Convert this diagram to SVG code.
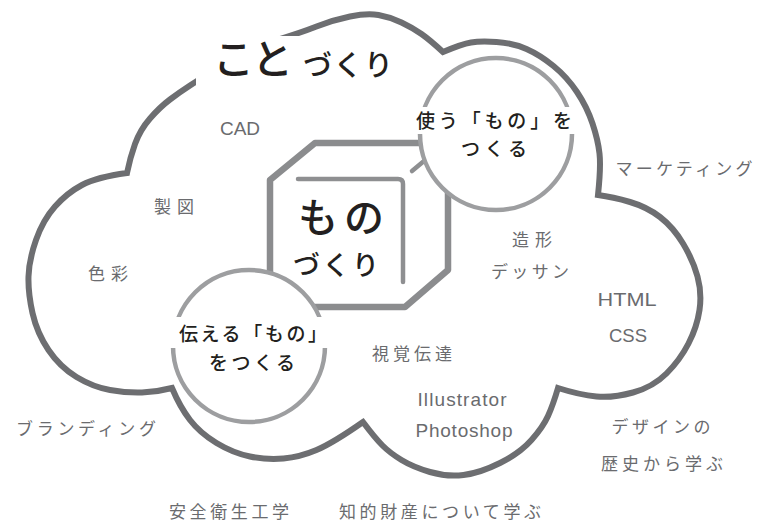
<svg xmlns="http://www.w3.org/2000/svg" width="757" height="522" viewBox="0 0 757 522">
<style>
.cloud{fill:none;stroke:#6d6e71;stroke-width:6;stroke-linejoin:miter}
.oct{fill:none;stroke:#8b8c8e;stroke-width:6.5;stroke-linejoin:round}
.inner{fill:none;stroke:#8e8f91;stroke-width:4.5;stroke-linecap:round}
.c2{fill:#fff;stroke:#9d9ea0;stroke-width:4.5}
.lbl{font-family:'Noto Sans CJK JP',sans-serif;font-size:17px;fill:#6a6b6e;text-anchor:middle}
.lat{font-family:'Liberation Sans',Arial,sans-serif;font-size:19px;fill:#6a6b6e;text-anchor:middle}
.ctx{font-family:'Noto Sans CJK JP',sans-serif;font-size:19px;font-weight:500;fill:#231f20;text-anchor:middle}
.big{font-family:'Noto Sans CJK JP',sans-serif;font-weight:500;fill:#231f20;text-anchor:middle}
</style>
<g id="cloud">
<path class="cloud" d="M127,173 Q130,158 135,144 Q140,130 150,118.5 Q160,107 170,99.5 Q180,92 190,85.5 Q200,79 225,63.5 Q250,48 275,40.5 Q300,33 316.5,26.5 Q333,20 350,16.5 Q367,13 378.5,15 Q390,17 401.5,22.5 Q413,28 421.5,34 Q430,40 443,52 Q462,44 471,42.5 Q480,41 496.5,42 Q513,43 526.5,49 Q540,55 553.5,66 Q567,77 577,92 Q587,107 592.5,123.5 Q598,140 599.5,153.5 Q601,167 598,195 Q613,197 630,202 Q647,207 660,217 Q673,227 683,243.5 Q693,260 697.5,276.5 Q702,293 699.5,310 Q697,327 688.5,343.5 Q680,360 666.5,373.5 Q653,387 633,392.5 Q613,398 596.5,396.5 Q580,395 558,388 Q553,405 548,416 Q543,427 531.5,440 Q520,453 500,463 Q480,473 463.5,475 Q447,477 430,472 Q413,467 401.5,460 Q390,453 382.5,445.5 Q375,438 363,422 Q333,443 316.5,450 Q300,457 283.5,458.5 Q267,460 250,456.5 Q233,453 216.5,443 Q200,433 190,420 Q180,407 172,388 Q157,392 142,392.5 Q127,393 110,390 Q93,387 76.5,377 Q60,367 48.5,350 Q37,333 32.5,313 Q28,293 28.5,276.5 Q29,260 36,240 Q43,220 55,206.5 Q67,193 82,185 Q97,177 127,173 Z"/>
</g>
<g id="title">
<rect x="196" y="36" width="112" height="56" fill="#fff"/>
<text class="big" x="253" y="74" font-size="41" font-weight="700" textLength="80" lengthAdjust="spacing">こと</text>
<text class="big" x="348" y="76" font-size="29" textLength="90" lengthAdjust="spacing">づくり</text>
</g>
<g id="monozukuri">
<polygon class="oct" points="315,143 432,143 448,163 448,270 405,307 292,307 270,286 270,180"/>
<path class="inner" d="M298,179 H398 Q403,179 403,184 V282"/>
<line class="inner" x1="412" y1="171" x2="436" y2="151"/>
<text class="big" x="341" y="232" font-size="40" textLength="86" lengthAdjust="spacing">もの</text>
<text class="big" x="336" y="275" font-size="27" textLength="86" lengthAdjust="spacing">づくり</text>
</g>
<g id="tsukau">
<circle class="c2" cx="496" cy="134" r="76"/>
<rect x="410" y="107" width="170" height="27" fill="#fff"/>
<text class="ctx" x="494" y="128" textLength="156" lengthAdjust="spacing">使う「もの」を</text>
<text class="ctx" x="494" y="156" textLength="66" lengthAdjust="spacing">つくる</text>
</g>
<g id="tsutaeru">
<circle class="c2" cx="249" cy="346" r="76"/>
<rect x="168" y="317" width="164" height="31" fill="#fff"/>
<text class="ctx" x="253" y="341" textLength="148" lengthAdjust="spacing">伝える「もの」</text>
<text class="ctx" x="252" y="370" textLength="86" lengthAdjust="spacing">をつくる</text>
</g>
<g id="labels">
<text class="lat" x="240" y="135" font-size="20">CAD</text>
<text class="lbl" x="174" y="213" textLength="40" lengthAdjust="spacing">製図</text>
<text class="lbl" x="108" y="280" textLength="40" lengthAdjust="spacing">色彩</text>
<text class="lbl" x="86" y="435" textLength="140" lengthAdjust="spacing">ブランディング</text>
<text class="lbl" x="229" y="518" textLength="120" lengthAdjust="spacing">安全衛生工学</text>
<text class="lbl" x="440" y="518" textLength="202" lengthAdjust="spacing">知的財産について学ぶ</text>
<text class="lbl" x="412" y="360" textLength="80" lengthAdjust="spacing">視覚伝達</text>
<text class="lbl" x="530" y="278" textLength="78" lengthAdjust="spacing">デッサン</text>
<text class="lbl" x="532" y="246" textLength="40" lengthAdjust="spacing">造形</text>
<text class="lbl" x="684" y="175" textLength="137" lengthAdjust="spacing">マーケティング</text>
<text class="lbl" x="661" y="433" textLength="99" lengthAdjust="spacing">デザインの</text>
<text class="lbl" x="662" y="470" textLength="122" lengthAdjust="spacing">歴史から学ぶ</text>
<text class="lat" x="627" y="306" font-size="20" textLength="59" lengthAdjust="spacingAndGlyphs">HTML</text>
<text class="lat" x="628" y="342" font-size="20" textLength="38" lengthAdjust="spacingAndGlyphs">CSS</text>
<text class="lat" x="462" y="406" textLength="89" lengthAdjust="spacing">Illustrator</text>
<text class="lat" x="464" y="437" textLength="97" lengthAdjust="spacing">Photoshop</text>
</g>
</svg>
